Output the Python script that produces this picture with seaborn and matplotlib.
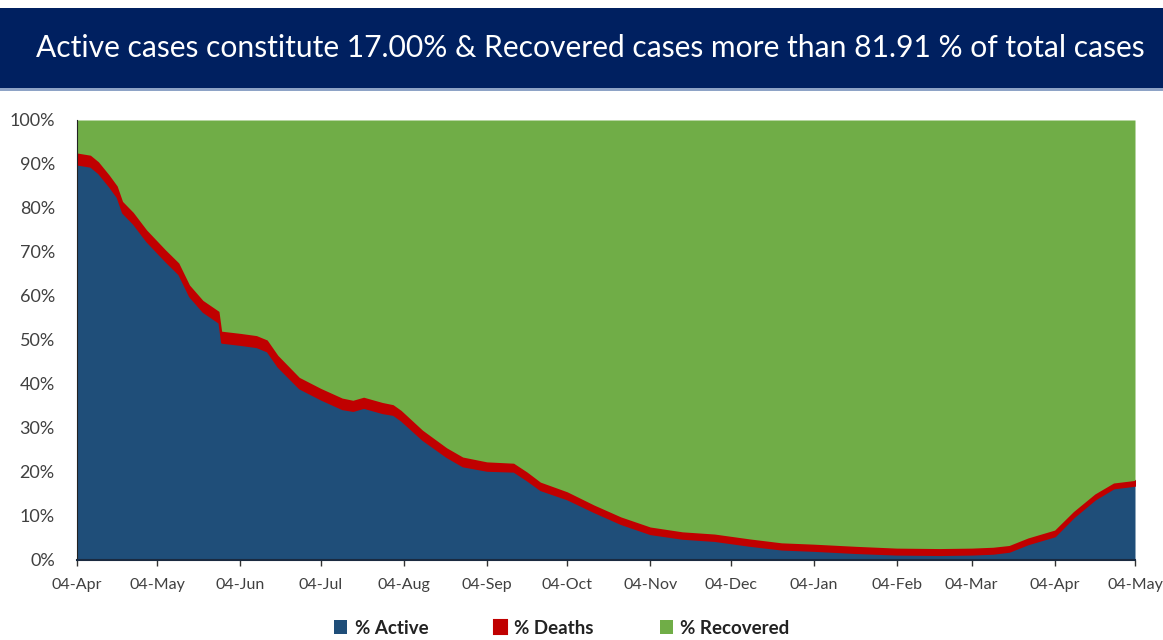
import matplotlib
matplotlib.use("Agg")
import matplotlib.pyplot as plt
import matplotlib.dates as mdates
import seaborn as sns
import pandas as pd
import numpy as np
from matplotlib.patches import Rectangle

dates = ["2020-04-04", "2020-04-09", "2020-04-12", "2020-04-16", "2020-04-19", "2020-04-21",
         "2020-04-25", "2020-04-30", "2020-05-07", "2020-05-12", "2020-05-16", "2020-05-21",
         "2020-05-27", "2020-05-28", "2020-06-04", "2020-06-10", "2020-06-14", "2020-06-18",
         "2020-06-26", "2020-07-04", "2020-07-12", "2020-07-16", "2020-07-20", "2020-07-27",
         "2020-07-31", "2020-08-03", "2020-08-11", "2020-08-20", "2020-08-26", "2020-09-04",
         "2020-09-14", "2020-09-19", "2020-09-24", "2020-10-04", "2020-10-14", "2020-10-24",
         "2020-11-04", "2020-11-16", "2020-11-28", "2020-12-11", "2020-12-23", "2021-01-04",
         "2021-01-20", "2021-02-04", "2021-02-20", "2021-03-04", "2021-03-12", "2021-03-18",
         "2021-03-25", "2021-04-04", "2021-04-11", "2021-04-19", "2021-04-26", "2021-05-04"]
# top of red band (active + deaths), %
total_active_deaths = [92.5, 92.0, 90.5, 87.5, 85.0, 81.5,
                       79.0, 75.0, 70.5, 67.5, 62.5, 59.0,
                       56.5, 52.0, 51.5, 51.0, 50.0, 46.5,
                       41.5, 39.0, 36.8, 36.3, 37.0, 35.8,
                       35.3, 34.0, 29.5, 25.5, 23.4, 22.3,
                       22.0, 20.0, 17.7, 15.5, 12.5, 9.8,
                       7.5, 6.4, 5.9, 4.8, 3.9, 3.6,
                       3.1, 2.7, 2.6, 2.7, 2.9, 3.3,
                       5.0, 6.8, 11.0, 15.0, 17.5, 18.09]
deaths_pct = [2.5, 2.5, 2.5, 2.5, 2.5, 2.5,
              2.5, 2.5, 2.5, 2.5, 2.5, 2.5,
              2.5, 2.5, 2.5, 2.5, 2.5, 2.5,
              2.4, 2.4, 2.4, 2.3, 2.3, 2.3,
              2.2, 2.2, 2.1, 2.0, 2.0, 1.9,
              1.8, 1.8, 1.7, 1.6, 1.5, 1.5,
              1.5, 1.45, 1.45, 1.45, 1.4, 1.4,
              1.4, 1.35, 1.35, 1.35, 1.35, 1.3,
              1.3, 1.3, 1.2, 1.15, 1.1, 1.09]
tick_dates = ["2020-04-04", "2020-05-04", "2020-06-04", "2020-07-04", "2020-08-04",
              "2020-09-04", "2020-10-04", "2020-11-04", "2020-12-04", "2021-01-04",
              "2021-02-04", "2021-03-04", "2021-04-04", "2021-05-04"]

series_names = ["% Active", "% Deaths", "% Recovered"]
colors = ["#1f4e79", "#c00000", "#70ad47"]

df = pd.DataFrame({"date": pd.to_datetime(dates),
                   "total": total_active_deaths,
                   "deaths": deaths_pct})
df["active"] = df["total"] - df["deaths"]
df["recovered"] = 100 - df["total"]

sns.set_style("white")
plt.rcParams["font.family"] = ["Lato", "DejaVu Sans"]

fig = plt.figure(figsize=(11.63, 6.4), dpi=100)
# title banner
fig.patches.append(Rectangle((0, 1 - 88/640), 1, 80/640, transform=fig.transFigure,
                             facecolor="#002060", edgecolor="none", zorder=0))
fig.patches.append(Rectangle((0, 1 - 91/640), 1, 3/640, transform=fig.transFigure,
                             facecolor="#8ea3c6", edgecolor="none", zorder=0))
fig.text(0.508, 1 - 48/640,
         "Active cases constitute 17.00% & Recovered cases more than 81.91 % of total cases",
         color="white", fontsize=21.6, ha="center", va="center")

ax = fig.add_axes([77/1163, 80/640, (1135-77)/1163, 440/640])
polys = ax.stackplot(df["date"], df["active"], df["deaths"], df["recovered"],
                     colors=colors, labels=series_names, linewidth=0)
polys[1].set_edgecolor("#c00000")
polys[1].set_linewidth(1.5)

ax.set_xlim(pd.Timestamp("2020-04-04"), pd.Timestamp("2021-05-04"))
ax.set_ylim(0, 100)
ax.set_yticks(np.arange(0, 101, 10))
ax.set_yticklabels([f"{v}%" for v in range(0, 101, 10)])
ax.set_xticks(pd.to_datetime(tick_dates))
ax.xaxis.set_major_formatter(mdates.DateFormatter("%d-%b"))
ax.tick_params(axis="x", direction="out", length=4, width=1, color="#333333",
               labelsize=11.5, labelcolor="#404040", pad=9, bottom=True)
ax.tick_params(axis="y", length=0, labelsize=13, labelcolor="#404040", pad=16)
for s in ["top", "right"]:
    ax.spines[s].set_visible(False)
ax.spines["left"].set_color("#222222")
ax.spines["bottom"].set_color("#1a2a40")
ax.spines["bottom"].set_linewidth(1.5)
ax.set_xlabel("")
ax.set_ylabel("")

leg = fig.legend(handles=polys, labels=series_names, loc="center",
                 bbox_to_anchor=(0.483, 1 - 628/640), ncol=3, frameon=False,
                 fontsize=13.5, handlelength=0.7, handleheight=0.7,
                 columnspacing=3.5, handletextpad=0.4)
for t in leg.get_texts():
    t.set_fontweight("bold")
    t.set_color("#222222")

fig.savefig("out.png", dpi=100)
